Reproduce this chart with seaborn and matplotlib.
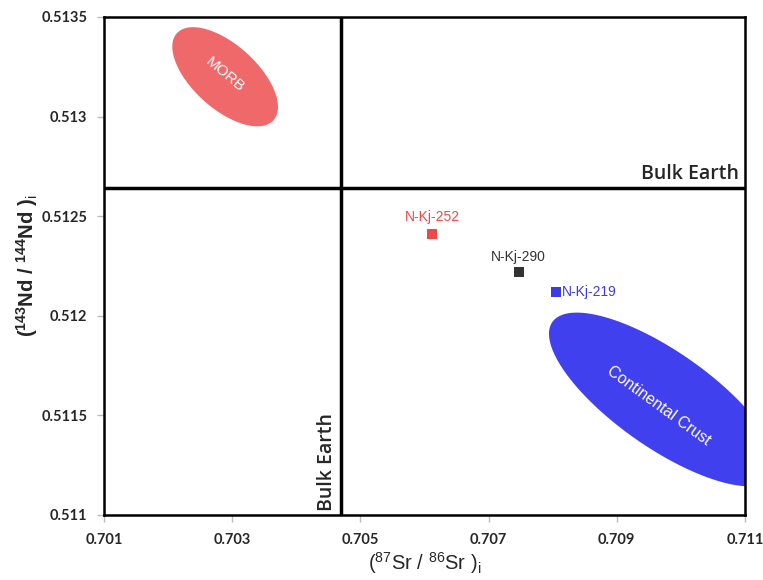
import numpy as np
import pandas as pd
import seaborn as sns
import matplotlib.pyplot as plt

# sample data
samples = ['N-Kj-252', 'N-Kj-290', 'N-Kj-219']
sr_ratio = [0.70612, 0.70747, 0.70805]
nd_ratio = [0.51241, 0.51222, 0.51212]
sample_colors = ['#F04848', '#333333', '#3C3CE6']

# reference lines (bulk earth)
bulk_earth_sr = 0.7047
bulk_earth_nd = 0.51264

# field ellipses: centre (sr, nd), half axes in axis pixels, tilt in degrees
fields = ['MORB', 'Continental Crust']
field_centers = [(0.70289, 0.51320), (0.70972, 0.51158)]
field_axes = [(65, 32), (135, 48)]
field_angles = [-42, -35]
field_colors = ['#F0696A', '#4040EE']

x_ticks = [0.701, 0.703, 0.705, 0.707, 0.709, 0.711]
y_ticks = [0.511, 0.5115, 0.512, 0.5125, 0.513, 0.5135]

sns.set_style('white')
plt.rcParams['font.family'] = ['Liberation Sans', 'DejaVu Sans']
plt.rcParams['mathtext.fontset'] = 'custom'
plt.rcParams['mathtext.rm'] = 'Liberation Sans'
plt.rcParams['mathtext.bf'] = 'Liberation Sans:bold'

fig = plt.figure(figsize=(7.63, 5.8), dpi=100)
ax = fig.add_axes([0.1363, 0.1121, 0.8401, 0.8586])
ax.set_xlim(0.701, 0.711)
ax.set_ylim(0.511, 0.5135)

# pixel -> data scale so ellipses look right on screen
bbox = ax.get_window_extent()
sx = 0.010 / bbox.width
sy = 0.0025 / bbox.height

t = np.linspace(0, 2 * np.pi, 200)
for name, (cx, cy), (a, b), ang, col in zip(fields, field_centers, field_axes, field_angles, field_colors):
    th = np.deg2rad(ang)
    u = a * np.cos(t)
    v = b * np.sin(t)
    px = u * np.cos(th) - v * np.sin(th)
    py = u * np.sin(th) + v * np.cos(th)
    ax.fill(cx + px * sx, cy + py * sy, color=col, lw=0, zorder=1)

ax.text(field_centers[0][0], field_centers[0][1] + 0.00001, 'MORB', color='white', fontsize=11,
        rotation=-40, ha='center', va='center', zorder=2)
ax.text(0.70965, 0.51155, 'Continental Crust', color='white', fontsize=11.5,
        rotation=-36, ha='center', va='center', zorder=2)

# bulk earth lines
ax.axvline(bulk_earth_sr, color='black', lw=2.5, zorder=3)
ax.axhline(bulk_earth_nd, color='black', lw=2.5, zorder=3)
be_font = dict(fontsize=14, family=['Open Sans', 'DejaVu Sans'], fontweight='semibold')
ax.text(0.7109, bulk_earth_nd + 0.00002, 'Bulk Earth', ha='right', va='bottom', **be_font)
ax.text(bulk_earth_sr - 0.00006, 0.51102, 'Bulk Earth', ha='right', va='bottom',
        rotation=90, **be_font)

df = pd.DataFrame({'sample': samples, 'sr': sr_ratio, 'nd': nd_ratio})
sns.scatterplot(data=df, x='sr', y='nd', hue='sample', palette=sample_colors, marker='s',
                s=55, edgecolor='none', legend=False, ax=ax, zorder=4)

ax.annotate(samples[0], (sr_ratio[0], nd_ratio[0]), xytext=(0, 7), textcoords='offset points',
            ha='center', va='bottom', color=sample_colors[0], fontsize=10)
ax.annotate(samples[1], (sr_ratio[1], nd_ratio[1]), xytext=(0, 6), textcoords='offset points',
            ha='center', va='bottom', color=sample_colors[1], fontsize=10)
ax.annotate(samples[2], (sr_ratio[2], nd_ratio[2]), xytext=(4, 0), textcoords='offset points',
            ha='left', va='center', color=sample_colors[2], fontsize=10)

ax.set_xticks(x_ticks)
ax.set_xticklabels([str(v) for v in x_ticks])
ax.set_yticks(y_ticks)
ax.set_yticklabels([str(v) for v in y_ticks])
for lab in ax.get_xticklabels() + ax.get_yticklabels():
    lab.set_fontfamily(['Lato', 'DejaVu Sans'])
    lab.set_fontweight('bold')
    lab.set_fontsize(10.5)
ax.tick_params(axis='both', direction='out', length=5, width=1, color='#BBBBBB', pad=7,
               bottom=True, left=True)
ax.tick_params(axis='x', pad=8)

for sp in ax.spines.values():
    sp.set_color('black')
    sp.set_linewidth(1.8)

ax.set_xlabel(r'($^{87}$Sr / $^{86}$Sr )$_{\rm i}$', fontsize=14.5, labelpad=2)
ax.set_ylabel(r'($^{\mathbf{143}}$Nd / $^{\mathbf{144}}$Nd )$_{\rm i}$', fontsize=14.5,
              fontweight='bold', labelpad=1)

fig.savefig('out.png', dpi=100)
